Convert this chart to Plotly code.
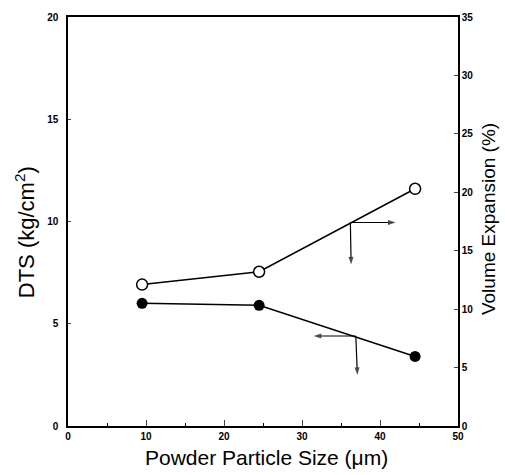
import plotly.graph_objects as go

particle_size = [9.5, 24.5, 44.5]
dts = [6.0, 5.9, 3.4]
vol_exp = [12.1, 13.2, 20.3]

x_ticks = [0, 10, 20, 30, 40, 50]
y_ticks = [0, 5, 10, 15, 20]
y2_ticks = [0, 5, 10, 15, 20, 25, 30, 35]

x_title = "Powder Particle Size (μm)"
y_title = "DTS (kg/cm<sup>2</sup>)"
y2_title = "Volume Expansion (%)"

# arrow indicators (data coords on x / left-y axes): (tail_x, tail_y, head_x, head_y)
arrows = [
    (36.2, 9.95, 42.0, 9.95),
    (36.2, 9.95, 36.3, 7.9),
    (36.9, 4.4, 31.5, 4.4),
    (36.9, 4.4, 37.1, 2.5),
]

fig = go.Figure()
fig.add_trace(go.Scatter(
    x=particle_size, y=dts, mode="lines+markers",
    line=dict(color="black", width=1.5),
    marker=dict(symbol="circle", size=11, color="black"),
    showlegend=False))
fig.add_trace(go.Scatter(
    x=particle_size, y=vol_exp, mode="lines+markers", yaxis="y2",
    line=dict(color="black", width=1.5),
    marker=dict(symbol="circle", size=11, color="white", line=dict(color="black", width=1.5)),
    showlegend=False))

for tx, ty, hx, hy in arrows:
    fig.add_trace(go.Scatter(
        x=[tx, hx], y=[ty, hy], mode="lines+markers",
        line=dict(color="black", width=1.2),
        marker=dict(symbol=["circle", "arrow"], size=[0, 8], color="black",
                    angleref="previous", line=dict(width=0)),
        showlegend=False, hoverinfo="skip"))

fam = "Liberation Sans, Arial"
fig.add_annotation(text=x_title, xref="paper", yref="paper", x=0.509, y=-0.078,
                   xanchor="center", yanchor="middle", showarrow=False,
                   font=dict(family=fam, size=21, color="black"))
fig.add_annotation(text=y_title, xref="paper", yref="paper", x=-0.110, y=0.474,
                   xanchor="center", yanchor="middle", showarrow=False, textangle=-90,
                   font=dict(family=fam, size=22, color="black"))
fig.add_annotation(text=y2_title, xref="paper", yref="paper", x=1.077, y=0.506,
                   xanchor="center", yanchor="middle", showarrow=False, textangle=-90,
                   font=dict(family=fam, size=19, color="black"))

tickfont = dict(family=fam, size=10, color="black", weight="bold")
fig.update_layout(
    width=505, height=475,
    margin=dict(l=68, r=47, t=17, b=49),
    paper_bgcolor="white", plot_bgcolor="white",
    xaxis=dict(range=[0, 50], tickvals=x_ticks, ticks="inside", ticklen=6, tickwidth=1.2,
               minor=dict(dtick=5, ticks="inside", ticklen=3, tickcolor="black"),
               showline=True, linecolor="black", linewidth=1.5, mirror=True,
               showgrid=False, zeroline=False, tickfont=tickfont),
    yaxis=dict(range=[0, 20], tickvals=y_ticks, ticks="inside", ticklen=3, tickwidth=1,
               showline=True, linecolor="black", linewidth=1.5, ticklabelstandoff=6,
               showgrid=False, zeroline=False, tickfont=tickfont),
    yaxis2=dict(range=[0, 35], tickvals=y2_ticks, ticks="inside", ticklen=4, tickwidth=1,
                overlaying="y", side="right", anchor="x",
                showline=True, linecolor="black", linewidth=1.5,
                showgrid=False, zeroline=False, tickfont=tickfont),
)
fig.write_html("out.html")
